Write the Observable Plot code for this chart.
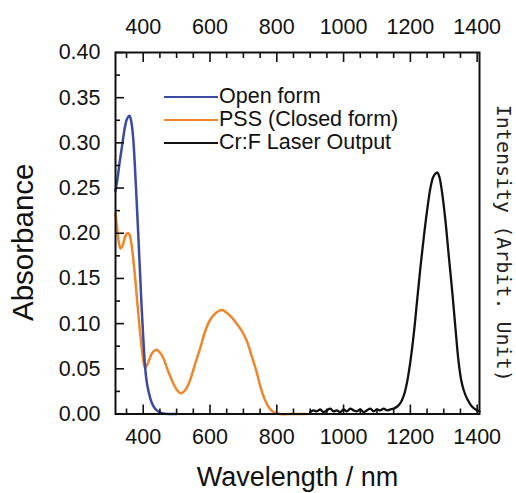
<!DOCTYPE html>
<html><head><meta charset="utf-8">
<script src="https://cdn.jsdelivr.net/npm/d3@7"></script>
<script src="https://cdn.jsdelivr.net/npm/@observablehq/plot@0.6"></script>
<style>
body{margin:0;background:#fff}
#wrap{position:relative;width:516px;height:493px;font-family:"Liberation Sans",Arial,sans-serif;color:#111}
#legend{position:absolute;left:164px;top:85px}
.row{display:flex;align-items:center;height:23px;font-size:21.5px;white-space:nowrap}
.row svg{margin-right:1px}
</style>
</head><body><div id="wrap"><div id="legend"></div></div>
<script>
// Open form absorbance
const openWl  = [317, 322, 330, 338, 345, 352, 359, 365, 370, 375, 380, 385, 390, 395, 400, 405, 410, 416, 425, 435, 448, 460, 480, 500];
const openAbs = [0.247, 0.258, 0.280, 0.300, 0.317, 0.327, 0.330, 0.322, 0.305, 0.275, 0.238, 0.200, 0.160, 0.120, 0.085, 0.055, 0.037, 0.025, 0.013, 0.006, 0.002, 0.0005, 0, 0];
// PSS (closed form) absorbance
const pssWl  = [317, 322, 327, 332, 338, 345, 352, 358, 364, 370, 376, 382, 388, 394, 400, 405, 410, 418, 428, 440, 450, 460, 475, 490, 500, 512, 525, 540, 555, 570, 585, 600, 615, 636, 650, 665, 680, 695, 710, 725, 740, 751, 762, 775, 790, 810, 850, 890];
const pssAbs = [0.222, 0.205, 0.190, 0.183, 0.186, 0.195, 0.200, 0.199, 0.190, 0.172, 0.150, 0.125, 0.100, 0.078, 0.060, 0.052, 0.053, 0.060, 0.068, 0.071, 0.068, 0.062, 0.047, 0.034, 0.027, 0.023, 0.026, 0.037, 0.055, 0.072, 0.091, 0.104, 0.111, 0.115, 0.112, 0.107, 0.100, 0.092, 0.081, 0.064, 0.046, 0.030, 0.018, 0.008, 0.002, 0, 0, 0];
// Cr:F laser output (arbitrary intensity, on absorbance scale)
const laserWl  = [900, 910, 920, 930, 940, 950, 960, 970, 980, 990, 1000, 1010, 1020, 1030, 1040, 1050, 1060, 1070, 1080, 1090, 1100, 1110, 1120, 1130, 1140, 1150, 1160, 1170, 1180, 1190, 1200, 1210, 1220, 1230, 1240, 1250, 1260, 1268, 1275, 1281, 1287, 1295, 1305, 1315, 1326, 1335, 1344, 1352, 1360, 1371, 1385, 1400, 1407];
const laserInt = [0.002, 0.004, 0.003, 0.005, 0.002, 0.004, 0.006, 0.003, 0.004, 0.002, 0.005, 0.003, 0.006, 0.004, 0.003, 0.005, 0.002, 0.004, 0.006, 0.003, 0.005, 0.004, 0.006, 0.004, 0.005, 0.006, 0.008, 0.012, 0.020, 0.035, 0.058, 0.088, 0.125, 0.162, 0.195, 0.225, 0.250, 0.262, 0.266, 0.267, 0.262, 0.245, 0.214, 0.175, 0.133, 0.095, 0.059, 0.038, 0.026, 0.016, 0.008, 0.004, 0.003];

const seriesNames = ["Open form", "PSS (Closed form)", "Cr:F Laser Output"];
const seriesColors = ["#3b4aa3", "#f0862a", "#111111"];
const xMajorTicks = [400, 600, 800, 1000, 1200, 1400];
const yMajorTicks = [0, 0.05, 0.10, 0.15, 0.20, 0.25, 0.30, 0.35, 0.40];
const xTitle = "Wavelength / nm";
const yTitle = "Absorbance";
const y2Title = "Intensity (Arbit. Unit)";

const xMinorTicks = d3.range(350, 1401, 50).filter(v => !xMajorTicks.includes(v));
const yMinorTicks = d3.range(0.025, 0.4, 0.05);

const rows = (wl, v) => wl.map((w, i) => ({wl: w, v: v[i]}));
const openRows = rows(openWl, openAbs);
const pssRows = rows(pssWl, pssAbs);
const laserRows = rows(laserWl, laserInt);

const ink = "#111";
const chart = Plot.plot({
  width: 516, height: 493,
  marginLeft: 115, marginRight: 37, marginTop: 52, marginBottom: 79.5,
  style: {fontFamily: '"Liberation Sans", Arial, sans-serif', background: "white", color: ink},
  x: {domain: [317, 1407]},
  y: {domain: [0, 0.40]},
  marks: [
    Plot.line(laserRows, {x: "wl", y: "v", stroke: seriesColors[2], strokeWidth: 2.3, curve: "catmull-rom"}),
    Plot.line(pssRows, {x: "wl", y: "v", stroke: seriesColors[1], strokeWidth: 2.5, curve: "catmull-rom"}),
    Plot.line(openRows, {x: "wl", y: "v", stroke: seriesColors[0], strokeWidth: 2.5, curve: "catmull-rom"}),
    Plot.axisX({anchor: "bottom", ticks: xMajorTicks, tickSize: -9, tickPadding: 23.5, fontSize: 21.5, tickFormat: d => String(d), label: null, strokeWidth: 1.6}),
    Plot.axisX({anchor: "bottom", ticks: xMinorTicks, tickSize: -5, fill: "none", label: null, strokeWidth: 1.6}),
    Plot.axisX({anchor: "top", ticks: xMajorTicks, tickSize: -9, tickPadding: 28, fontSize: 21.5, tickFormat: d => String(d), label: null, strokeWidth: 1.6}),
    Plot.axisX({anchor: "top", ticks: xMinorTicks, tickSize: -5, fill: "none", label: null, strokeWidth: 1.6}),
    Plot.axisY({anchor: "left", ticks: yMajorTicks, tickSize: -9, tickPadding: 24, fontSize: 21.5, tickFormat: d => d.toFixed(2), label: null, strokeWidth: 1.6}),
    Plot.axisY({anchor: "left", ticks: yMinorTicks, tickSize: -5, fill: "none", label: null, strokeWidth: 1.6}),
    Plot.frame({stroke: "#111", strokeWidth: 2}),
    Plot.text([xTitle], {text: d => d, frameAnchor: "bottom", textAnchor: "middle", dy: 63.5, fontSize: 27, lineAnchor: "middle", fill: ink}),
    Plot.text([yTitle], {text: d => d, frameAnchor: "left", textAnchor: "middle", dx: -92, dy: 9, rotate: -90, fontSize: 29.5, lineAnchor: "middle", fill: ink}),
    Plot.text([y2Title], {text: d => d, frameAnchor: "right", textAnchor: "middle", dx: 24, dy: 10, rotate: 90, fontSize: 20, lineAnchor: "middle", fontFamily: '"DejaVu Sans Mono", "Liberation Mono", monospace', fill: "#222"})
  ]
});
document.getElementById("wrap").prepend(chart);

const legend = document.getElementById("legend");
seriesNames.forEach((name, i) => {
  const row = document.createElement("div");
  row.className = "row";
  row.innerHTML = `<svg width="54" height="4"><line x1="0" y1="2" x2="54" y2="2" stroke="${seriesColors[i]}" stroke-width="2.2"/></svg><span>${name}</span>`;
  legend.appendChild(row);
});
</script>
</body></html>
